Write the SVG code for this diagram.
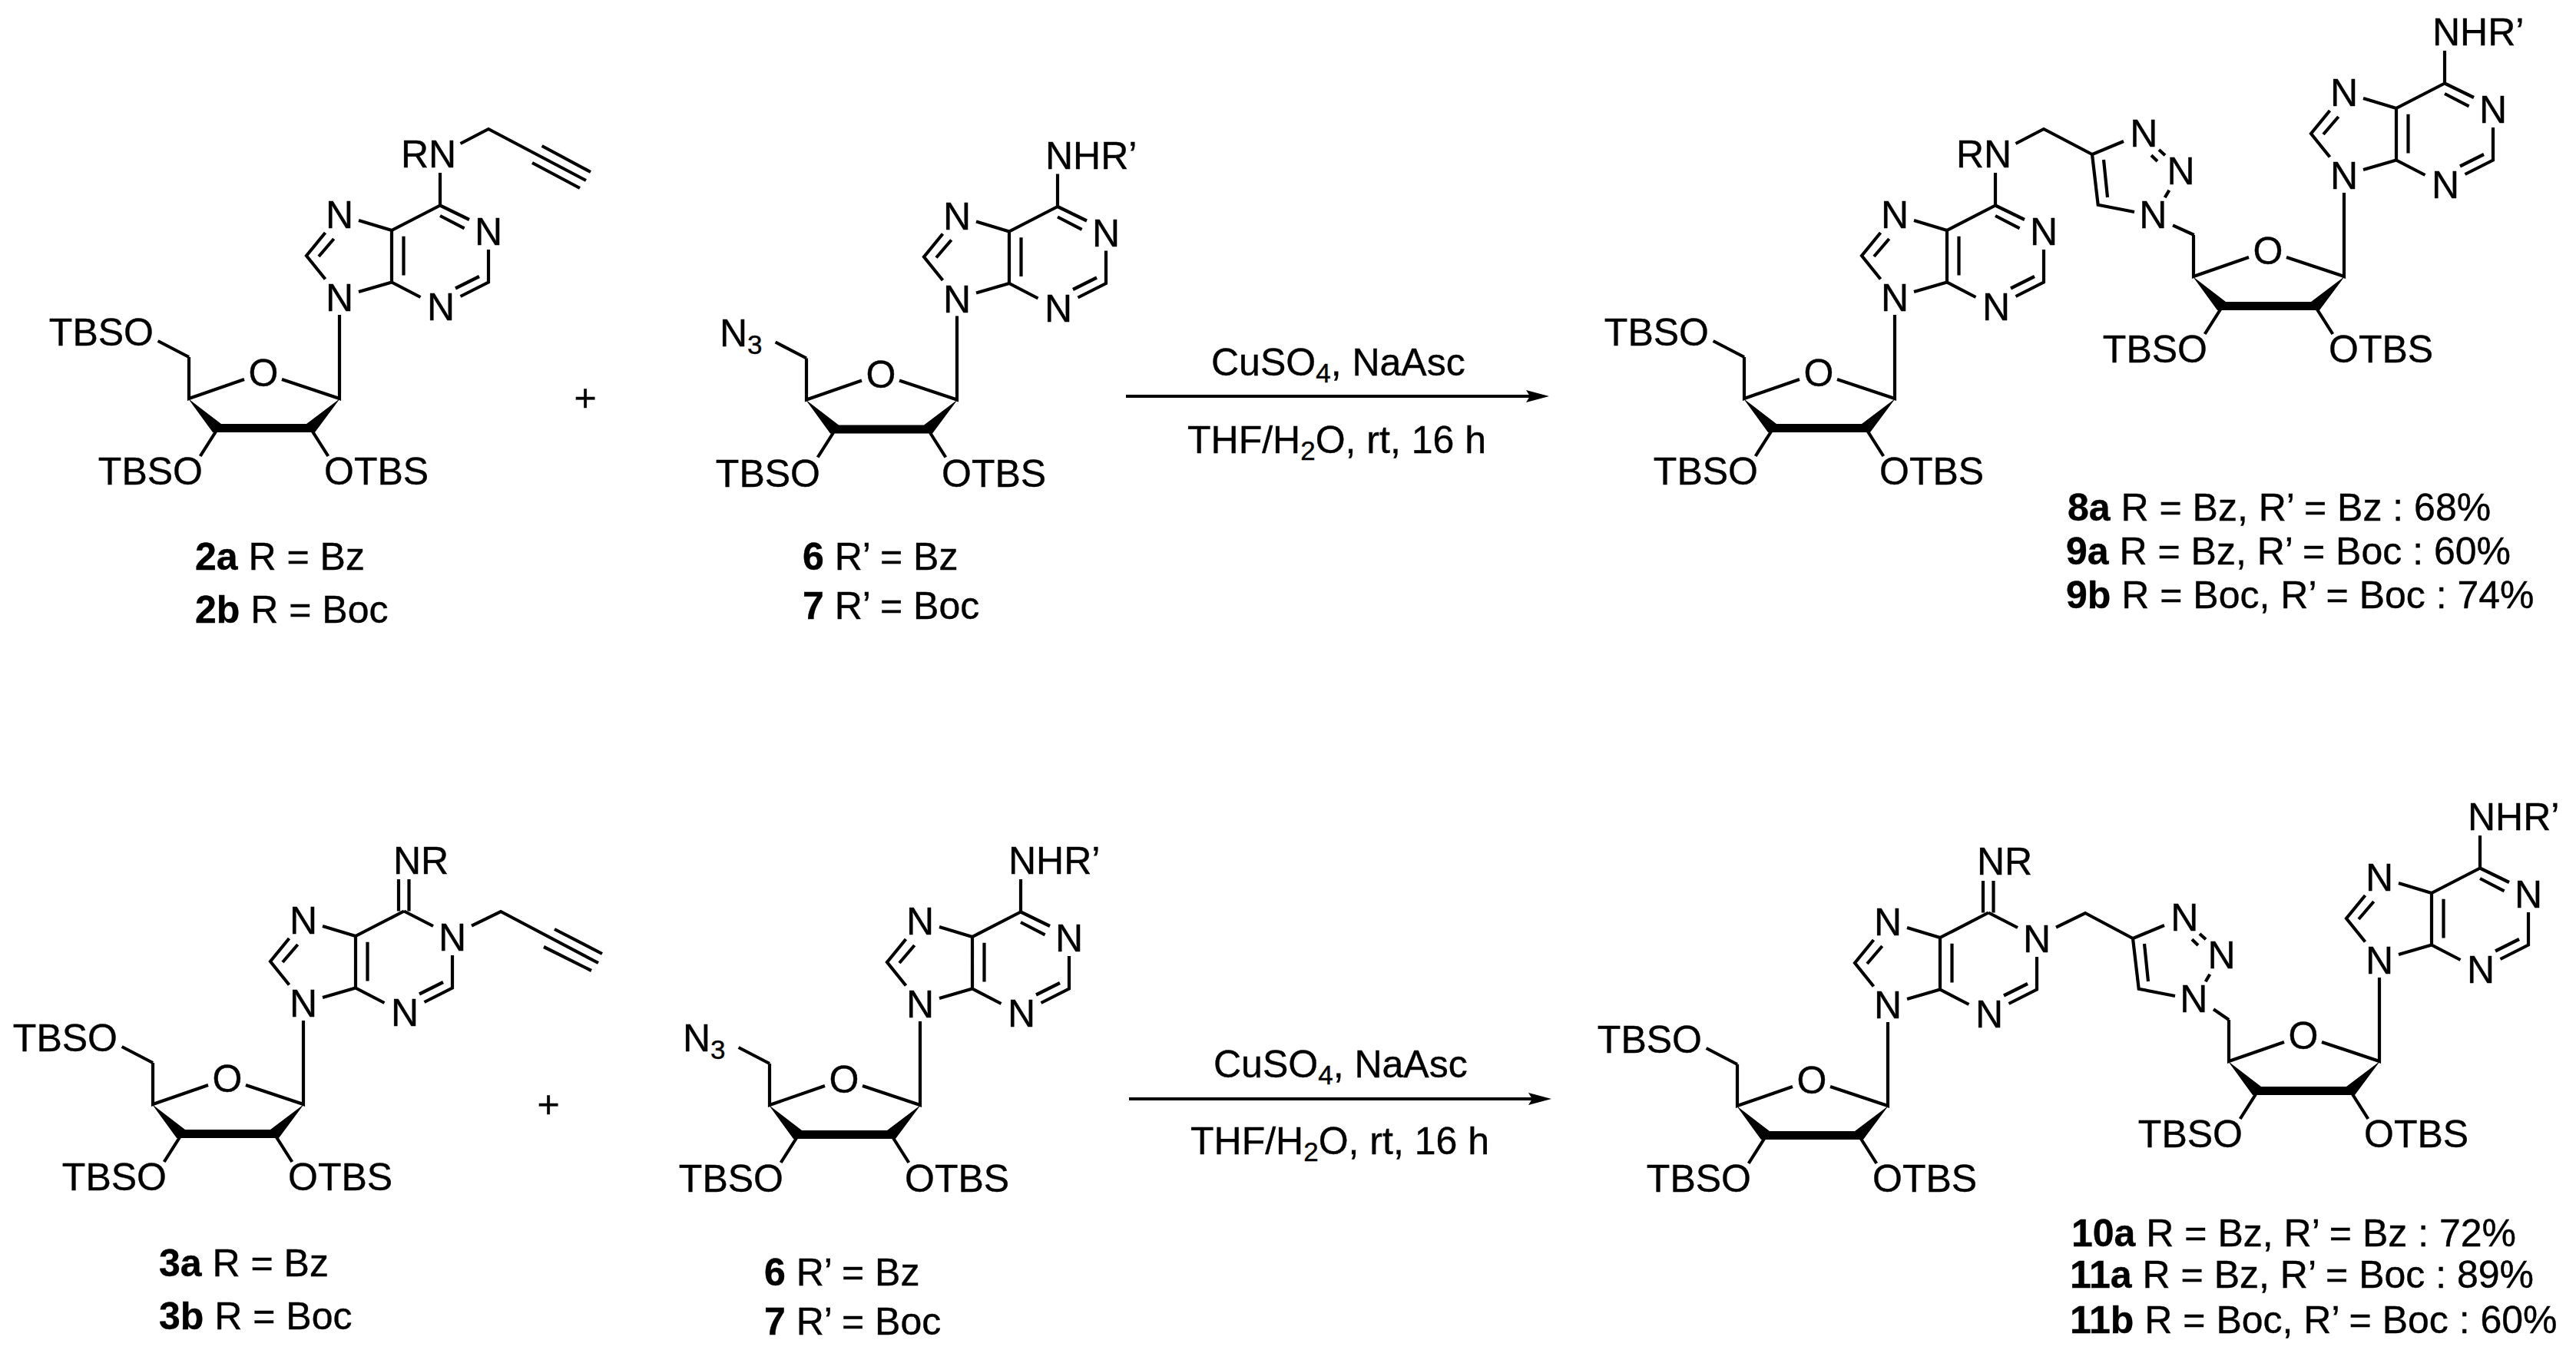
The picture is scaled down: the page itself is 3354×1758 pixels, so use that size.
<svg xmlns="http://www.w3.org/2000/svg" xmlns:xlink="http://www.w3.org/1999/xlink" width="3354" height="1758" viewBox="0 0 3354 1758">
<style>
text{font-family:"Liberation Sans",Arial,sans-serif;font-size:50px;fill:#000;stroke:#000;stroke-width:.4}
.m{text-anchor:middle}
.e{text-anchor:end}
.h{font-weight:700}
.b{fill:none;stroke:#000;stroke-width:4.2}
.s{font-size:35px}
</style>
<defs>
<marker id="head" markerUnits="userSpaceOnUse" markerWidth="30" markerHeight="18" viewBox="0 -9 30 18" refX="5" refY="0" orient="auto"><path d="M0,-8L30,0L0,8L5,0Z" fill="#000"/></marker>
<g id="adn">
<path class="b" d="M636,325V367.5L599.5,386M624,360L593,375.5M547.5,387L510,367.5V300L573,267.5M525.5,307.7V358.6M467,287L510,300M423.5,303L399,333L423.5,363.5M434.7,311L415,334M467,380L510,367.5M442,410V519L367,494M318,494L246,519V465M281,562L260.7,594M407,562L427.3,594"/>
<path d="M245,519L288,552H399L442.7,519L410,563H277Z" fill="#000"/>
</g>
<path id="c6n1" class="b" d="M573,267.5L611,286M573,281L604.6,297.4"/>
<path id="c6n1s" class="b" d="M573,267.5L611,287"/>
<path id="o5" class="b" d="M246,465L205.6,444"/>
<path id="n6" class="b" d="M573,267.5V225"/>
<path id="n6d" class="b" d="M566,267.5V226M579.5,267.5V226"/>
<path id="tz" class="b" d="M2765,184L2724,201L2731.7,266.7L2779,276M2739,208L2744,257M2811,195L2819,202.3M2801,202.3L2809,210M2824.3,247.7L2818.7,257.3"/>
</defs>
<g id="connectors">
<line class="b" x1="1466" y1="516" x2="1992" y2="516" marker-end="url(#head)"/>
<line class="b" x1="1470" y1="1431" x2="1995" y2="1431" marker-end="url(#head)"/>
</g>

<g id="mol-2" transform="translate(0,0)">
<use href="#adn"/><use href="#c6n1"/><use href="#o5"/><use href="#n6"/>
<path class="b" d="M599.5,187L636,168L763,235M705.6,190L769,224M693,212L755,245"/>
<text class="m" x="442" y="297">N</text><text class="m" x="442" y="405">N</text><text class="m" x="636" y="319">N</text><text class="m" x="574" y="417">N</text><text class="m" x="343" y="503">O</text>
<text class="e" x="200" y="450">TBSO</text><text class="e" x="264" y="631">TBSO</text><text x="422" y="631">OTBS</text>
<text x="522" y="218">RN</text>
</g>
<text class="m" x="762" y="535">+</text>
<g id="label-2"><text x="254" y="742"><tspan class="h">2a</tspan> R = Bz</text><text x="254" y="811"><tspan class="h">2b</tspan> R = Boc</text></g>

<g id="mol-6" transform="translate(804,1.5)">
<use href="#adn"/><use href="#c6n1"/><use href="#o5"/><use href="#n6"/>
<text class="m" x="442" y="297">N</text><text class="m" x="442" y="405">N</text><text class="m" x="636" y="319">N</text><text class="m" x="574" y="417">N</text><text class="m" x="343" y="503">O</text>
<text x="133" y="449">N<tspan class="s" dy="10">3</tspan></text><text class="e" x="264" y="632">TBSO</text><text x="422" y="632">OTBS</text>
<text x="557" y="218">NHR’</text>
</g>
<g id="label-6"><text x="1045" y="742"><tspan class="h">6</tspan> R’ = Bz</text><text x="1045" y="806"><tspan class="h">7</tspan> R’ = Boc</text></g>

<g id="reagents-1"><text x="1577" y="489">CuSO<tspan class="s" dy="9">4</tspan><tspan dy="-9">, NaAsc</tspan></text><text x="1546" y="590">THF/H<tspan class="s" dy="9">2</tspan><tspan dy="-9">O, rt, 16 h</tspan></text></g>

<g id="mol-8-left" transform="translate(2025,0)">
<use href="#adn"/><use href="#c6n1"/><use href="#o5"/><use href="#n6"/>
<path class="b" d="M599.5,187L636,168L699,201"/>
<text class="m" x="442" y="297">N</text><text class="m" x="442" y="405">N</text><text class="m" x="636" y="319">N</text><text class="m" x="574" y="417">N</text><text class="m" x="343" y="503">O</text>
<text class="e" x="200" y="450">TBSO</text><text class="e" x="264" y="631">TBSO</text><text x="422" y="631">OTBS</text>
<text x="522" y="218">RN</text>
</g>
<g id="triazole-1">
<use href="#tz"/><path class="b" d="M2829,293.3L2856.7,306"/>
<text class="m" x="2791.3" y="190.7">N</text><text class="m" x="2839.6" y="240">N</text><text class="m" x="2803.3" y="297">N</text>
</g>
<g id="mol-8-right" transform="translate(2610,-159)">
<use href="#adn"/><use href="#c6n1"/><use href="#n6"/>
<text class="m" x="442" y="297">N</text><text class="m" x="442" y="405">N</text><text class="m" x="636" y="319">N</text><text class="m" x="574" y="417">N</text><text class="m" x="343" y="503">O</text>
<text class="e" x="264" y="631">TBSO</text><text x="422" y="631">OTBS</text>
<text x="557" y="218">NHR’</text>
</g>
<g id="label-8"><text x="2692" y="678"><tspan class="h">8a</tspan> R = Bz, R’ = Bz : 68%</text><text x="2690" y="735"><tspan class="h">9a</tspan> R = Bz, R’ = Boc : 60%</text><text x="2690" y="792"><tspan class="h">9b</tspan> R = Boc, R’ = Boc : 74%</text></g>

<g id="mol-3" transform="translate(-47,919)">
<use href="#adn"/><use href="#c6n1s"/><use href="#o5"/><use href="#n6d"/>
<path class="b" d="M661,286.6L699,268L826,335M769,291L831,323M755,314L817,345"/>
<text class="m" x="442" y="297">N</text><text class="m" x="442" y="405">N</text><text class="m" x="636" y="319">N</text><text class="m" x="574" y="417">N</text><text class="m" x="343" y="503">O</text>
<text class="e" x="200" y="450">TBSO</text><text class="e" x="264" y="631">TBSO</text><text x="422" y="631">OTBS</text>
<text x="559" y="219">NR</text>
</g>
<text class="m" x="714" y="1455">+</text>
<g id="label-3"><text x="207" y="1662"><tspan class="h">3a</tspan> R = Bz</text><text x="207" y="1731"><tspan class="h">3b</tspan> R = Boc</text></g>

<g id="mol-6b" transform="translate(756,920)">
<use href="#adn"/><use href="#c6n1"/><use href="#o5"/><use href="#n6"/>
<text class="m" x="442" y="297">N</text><text class="m" x="442" y="405">N</text><text class="m" x="636" y="319">N</text><text class="m" x="574" y="417">N</text><text class="m" x="343" y="503">O</text>
<text x="133" y="449">N<tspan class="s" dy="10">3</tspan></text><text class="e" x="264" y="632">TBSO</text><text x="422" y="632">OTBS</text>
<text x="557" y="218">NHR’</text>
</g>
<g id="label-6b"><text x="995" y="1674"><tspan class="h">6</tspan> R’ = Bz</text><text x="995" y="1738"><tspan class="h">7</tspan> R’ = Boc</text></g>

<g id="reagents-2"><text x="1580" y="1403">CuSO<tspan class="s" dy="9">4</tspan><tspan dy="-9">, NaAsc</tspan></text><text x="1550" y="1503">THF/H<tspan class="s" dy="9">2</tspan><tspan dy="-9">O, rt, 16 h</tspan></text></g>

<g id="mol-10-left" transform="translate(2016,921)">
<use href="#adn"/><use href="#c6n1s"/><use href="#o5"/><use href="#n6d"/>
<path class="b" d="M661,286.6L699,268L761,301"/>
<text class="m" x="442" y="297">N</text><text class="m" x="442" y="405">N</text><text class="m" x="636" y="319">N</text><text class="m" x="574" y="417">N</text><text class="m" x="343" y="503">O</text>
<text class="e" x="200" y="450">TBSO</text><text class="e" x="264" y="631">TBSO</text><text x="422" y="631">OTBS</text>
<text x="558" y="218">NR</text>
</g>
<g id="triazole-2" transform="translate(53,1021)">
<use href="#tz"/><path class="b" d="M2829,293.3L2849,307"/>
<text class="m" x="2791.3" y="190.7">N</text><text class="m" x="2839.6" y="240">N</text><text class="m" x="2803.3" y="297">N</text>
</g>
<g id="mol-10-right" transform="translate(2656,863)">
<use href="#adn"/><use href="#c6n1"/><use href="#n6"/>
<text class="m" x="442" y="297">N</text><text class="m" x="442" y="405">N</text><text class="m" x="636" y="319">N</text><text class="m" x="574" y="417">N</text><text class="m" x="343" y="503">O</text>
<text class="e" x="264" y="631">TBSO</text><text x="422" y="631">OTBS</text>
<text x="557" y="218">NHR’</text>
</g>
<g id="label-10"><text x="2697" y="1623"><tspan class="h">10a</tspan> R = Bz, R’ = Bz : 72%</text><text x="2695" y="1677"><tspan class="h">11a</tspan> R = Bz, R’ = Boc : 89%</text><text x="2695" y="1736"><tspan class="h">11b</tspan> R = Boc, R’ = Boc : 60%</text></g>
</svg>
